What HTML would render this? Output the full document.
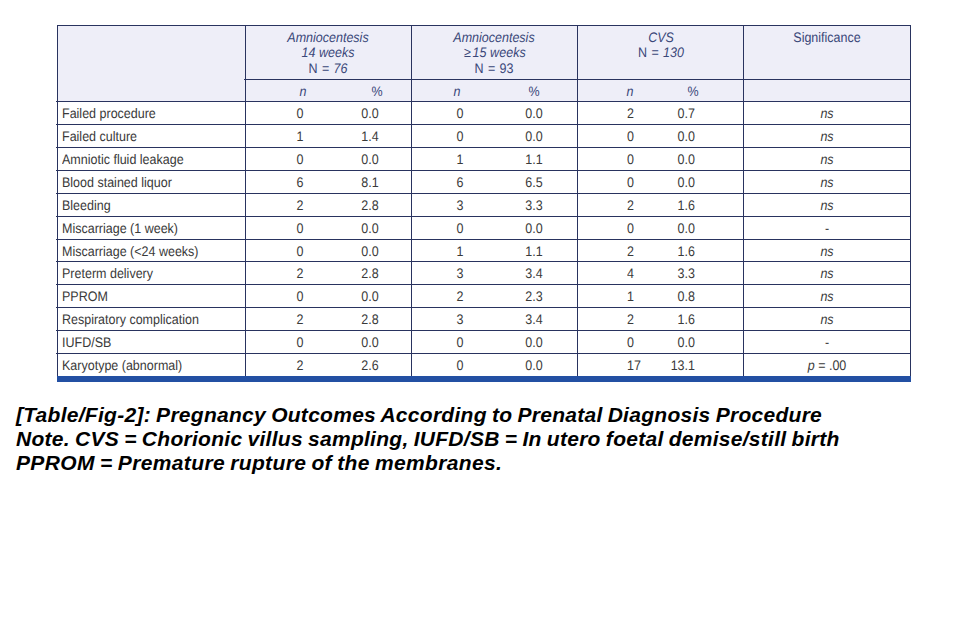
<!DOCTYPE html>
<html><head><meta charset="utf-8"><style>
html,body{margin:0;padding:0;background:#fff;width:957px;height:641px;overflow:hidden;}
body{position:relative;font-family:"Liberation Sans",sans-serif;}
body>div{position:absolute;}
.t{white-space:pre;}
.g{text-rendering:geometricPrecision;}
</style></head><body>
<div style="left:57px;top:25px;width:854px;height:76px;background:#eeeef8"></div>
<div style="left:57px;top:25px;width:854px;height:1px;background:#29335f"></div>
<div style="left:244px;top:79px;width:667px;height:1px;background:#29335f"></div>
<div style="left:56px;top:101px;width:855px;height:1px;background:#29335f"></div>
<div style="left:56px;top:124px;width:855px;height:1px;background:#29335f"></div>
<div style="left:56px;top:147px;width:855px;height:1px;background:#29335f"></div>
<div style="left:56px;top:170px;width:855px;height:1px;background:#29335f"></div>
<div style="left:56px;top:193px;width:855px;height:1px;background:#29335f"></div>
<div style="left:56px;top:216px;width:855px;height:1px;background:#29335f"></div>
<div style="left:56px;top:239px;width:855px;height:1px;background:#29335f"></div>
<div style="left:56px;top:261px;width:855px;height:1px;background:#29335f"></div>
<div style="left:56px;top:284px;width:855px;height:1px;background:#29335f"></div>
<div style="left:56px;top:307px;width:855px;height:1px;background:#29335f"></div>
<div style="left:56px;top:330px;width:855px;height:1px;background:#29335f"></div>
<div style="left:56px;top:353px;width:855px;height:1px;background:#29335f"></div>
<div style="left:57px;top:25px;width:1px;height:351px;background:#29335f"></div>
<div style="left:245px;top:25px;width:1px;height:351px;background:#29335f"></div>
<div style="left:411px;top:25px;width:1px;height:351px;background:#29335f"></div>
<div style="left:577px;top:25px;width:1px;height:351px;background:#29335f"></div>
<div style="left:743px;top:25px;width:1px;height:351px;background:#29335f"></div>
<div style="left:910px;top:25px;width:1px;height:351px;background:#29335f"></div>
<div style="left:57px;top:376px;width:854px;height:6px;background:#2350a3"></div>
<div class="t g" style="left:228.00px;top:30.22px;width:200px;text-align:center;color:#3a4779;font-size:13.8px;line-height:15px;transform:scaleX(0.906);transform-origin:50% 0;"><i>Amniocentesis</i></div>
<div class="t g" style="left:228.00px;top:45.22px;width:200px;text-align:center;color:#3a4779;font-size:13.8px;line-height:15px;transform:scaleX(0.906);transform-origin:50% 0;"><i>14 weeks</i></div>
<div class="t g" style="left:228.00px;top:61.12px;width:200px;text-align:center;color:#3a4779;font-size:13.8px;line-height:15px;transform:scaleX(0.906);transform-origin:50% 0;word-spacing:1px;">N = <i>76</i></div>
<div class="t g" style="left:394.00px;top:30.22px;width:200px;text-align:center;color:#3a4779;font-size:13.8px;line-height:15px;transform:scaleX(0.906);transform-origin:50% 0;"><i>Amniocentesis</i></div>
<div class="t g" style="left:394.50px;top:45.22px;width:200px;text-align:center;color:#3a4779;font-size:13.8px;line-height:15px;transform:scaleX(0.906);transform-origin:50% 0;letter-spacing:0.1px;"><span style="margin-right:1.5px">&ge;</span><i>15 weeks</i></div>
<div class="t g" style="left:394.00px;top:61.12px;width:200px;text-align:center;color:#3a4779;font-size:13.8px;line-height:15px;transform:scaleX(0.906);transform-origin:50% 0;word-spacing:1px;">N = 93</div>
<div class="t g" style="left:560.70px;top:30.22px;width:200px;text-align:center;color:#3a4779;font-size:13.8px;line-height:15px;transform:scaleX(0.906);transform-origin:50% 0;"><i>CVS</i></div>
<div class="t g" style="left:560.70px;top:45.22px;width:200px;text-align:center;color:#3a4779;font-size:13.8px;line-height:15px;transform:scaleX(0.906);transform-origin:50% 0;word-spacing:1px;">N = <i>130</i></div>
<div class="t g" style="left:727.00px;top:30.22px;width:200px;text-align:center;color:#3a4779;font-size:13.8px;line-height:15px;transform:scaleX(0.906);transform-origin:50% 0;">Significance</div>
<div class="t g" style="left:203.00px;top:84.12px;width:200px;text-align:center;color:#3a4779;font-size:13.8px;line-height:15px;transform:scaleX(0.906);transform-origin:50% 0;"><i>n</i></div>
<div class="t g" style="left:357.00px;top:84.12px;width:200px;text-align:center;color:#3a4779;font-size:13.8px;line-height:15px;transform:scaleX(0.906);transform-origin:50% 0;"><i>n</i></div>
<div class="t g" style="left:530.00px;top:84.12px;width:200px;text-align:center;color:#3a4779;font-size:13.8px;line-height:15px;transform:scaleX(0.906);transform-origin:50% 0;"><i>n</i></div>
<div class="t g" style="left:276.60px;top:84.12px;width:200px;text-align:center;color:#3a4779;font-size:13.8px;line-height:15px;transform:scaleX(0.906);transform-origin:50% 0;">%</div>
<div class="t g" style="left:434.00px;top:84.12px;width:200px;text-align:center;color:#3a4779;font-size:13.8px;line-height:15px;transform:scaleX(0.906);transform-origin:50% 0;">%</div>
<div class="t g" style="left:592.80px;top:84.12px;width:200px;text-align:center;color:#3a4779;font-size:13.8px;line-height:15px;transform:scaleX(0.906);transform-origin:50% 0;">%</div>
<div class="t g" style="left:62.00px;top:106.12px;width:200px;text-align:left;color:#3a3a3a;font-size:13.8px;line-height:15px;transform:scaleX(0.906);transform-origin:0 0;">Failed procedure</div>
<div class="t g" style="left:280.10px;top:106.12px;width:40px;text-align:center;color:#3a3a3a;font-size:13.8px;line-height:15px;transform:scaleX(0.906);transform-origin:50% 0;">0</div>
<div class="t g" style="left:349.70px;top:106.12px;width:40px;text-align:center;color:#3a3a3a;font-size:13.8px;line-height:15px;transform:scaleX(0.906);transform-origin:50% 0;">0.0</div>
<div class="t g" style="left:440.30px;top:106.12px;width:40px;text-align:center;color:#3a3a3a;font-size:13.8px;line-height:15px;transform:scaleX(0.906);transform-origin:50% 0;">0</div>
<div class="t g" style="left:514.00px;top:106.12px;width:40px;text-align:center;color:#3a3a3a;font-size:13.8px;line-height:15px;transform:scaleX(0.906);transform-origin:50% 0;">0.0</div>
<div class="t g" style="left:627.00px;top:106.12px;width:40px;text-align:left;color:#3a3a3a;font-size:13.8px;line-height:15px;transform:scaleX(0.906);transform-origin:0 0;">2</div>
<div class="t g" style="left:655.00px;top:106.12px;width:40px;text-align:right;color:#3a3a3a;font-size:13.8px;line-height:15px;transform:scaleX(0.906);transform-origin:100% 0;">0.7</div>
<div class="t g" style="left:797.00px;top:106.12px;width:60px;text-align:center;color:#3a3a3a;font-size:13.8px;line-height:15px;transform:scaleX(0.906);transform-origin:50% 0;"><i>ns</i></div>
<div class="t g" style="left:62.00px;top:129.12px;width:200px;text-align:left;color:#3a3a3a;font-size:13.8px;line-height:15px;transform:scaleX(0.906);transform-origin:0 0;">Failed culture</div>
<div class="t g" style="left:280.10px;top:129.12px;width:40px;text-align:center;color:#3a3a3a;font-size:13.8px;line-height:15px;transform:scaleX(0.906);transform-origin:50% 0;">1</div>
<div class="t g" style="left:349.70px;top:129.12px;width:40px;text-align:center;color:#3a3a3a;font-size:13.8px;line-height:15px;transform:scaleX(0.906);transform-origin:50% 0;">1.4</div>
<div class="t g" style="left:440.30px;top:129.12px;width:40px;text-align:center;color:#3a3a3a;font-size:13.8px;line-height:15px;transform:scaleX(0.906);transform-origin:50% 0;">0</div>
<div class="t g" style="left:514.00px;top:129.12px;width:40px;text-align:center;color:#3a3a3a;font-size:13.8px;line-height:15px;transform:scaleX(0.906);transform-origin:50% 0;">0.0</div>
<div class="t g" style="left:627.00px;top:129.12px;width:40px;text-align:left;color:#3a3a3a;font-size:13.8px;line-height:15px;transform:scaleX(0.906);transform-origin:0 0;">0</div>
<div class="t g" style="left:655.00px;top:129.12px;width:40px;text-align:right;color:#3a3a3a;font-size:13.8px;line-height:15px;transform:scaleX(0.906);transform-origin:100% 0;">0.0</div>
<div class="t g" style="left:797.00px;top:129.12px;width:60px;text-align:center;color:#3a3a3a;font-size:13.8px;line-height:15px;transform:scaleX(0.906);transform-origin:50% 0;"><i>ns</i></div>
<div class="t g" style="left:62.00px;top:152.12px;width:200px;text-align:left;color:#3a3a3a;font-size:13.8px;line-height:15px;transform:scaleX(0.906);transform-origin:0 0;">Amniotic fluid leakage</div>
<div class="t g" style="left:280.10px;top:152.12px;width:40px;text-align:center;color:#3a3a3a;font-size:13.8px;line-height:15px;transform:scaleX(0.906);transform-origin:50% 0;">0</div>
<div class="t g" style="left:349.70px;top:152.12px;width:40px;text-align:center;color:#3a3a3a;font-size:13.8px;line-height:15px;transform:scaleX(0.906);transform-origin:50% 0;">0.0</div>
<div class="t g" style="left:440.30px;top:152.12px;width:40px;text-align:center;color:#3a3a3a;font-size:13.8px;line-height:15px;transform:scaleX(0.906);transform-origin:50% 0;">1</div>
<div class="t g" style="left:514.00px;top:152.12px;width:40px;text-align:center;color:#3a3a3a;font-size:13.8px;line-height:15px;transform:scaleX(0.906);transform-origin:50% 0;">1.1</div>
<div class="t g" style="left:627.00px;top:152.12px;width:40px;text-align:left;color:#3a3a3a;font-size:13.8px;line-height:15px;transform:scaleX(0.906);transform-origin:0 0;">0</div>
<div class="t g" style="left:655.00px;top:152.12px;width:40px;text-align:right;color:#3a3a3a;font-size:13.8px;line-height:15px;transform:scaleX(0.906);transform-origin:100% 0;">0.0</div>
<div class="t g" style="left:797.00px;top:152.12px;width:60px;text-align:center;color:#3a3a3a;font-size:13.8px;line-height:15px;transform:scaleX(0.906);transform-origin:50% 0;"><i>ns</i></div>
<div class="t g" style="left:62.00px;top:175.12px;width:200px;text-align:left;color:#3a3a3a;font-size:13.8px;line-height:15px;transform:scaleX(0.906);transform-origin:0 0;">Blood stained liquor</div>
<div class="t g" style="left:280.10px;top:175.12px;width:40px;text-align:center;color:#3a3a3a;font-size:13.8px;line-height:15px;transform:scaleX(0.906);transform-origin:50% 0;">6</div>
<div class="t g" style="left:349.70px;top:175.12px;width:40px;text-align:center;color:#3a3a3a;font-size:13.8px;line-height:15px;transform:scaleX(0.906);transform-origin:50% 0;">8.1</div>
<div class="t g" style="left:440.30px;top:175.12px;width:40px;text-align:center;color:#3a3a3a;font-size:13.8px;line-height:15px;transform:scaleX(0.906);transform-origin:50% 0;">6</div>
<div class="t g" style="left:514.00px;top:175.12px;width:40px;text-align:center;color:#3a3a3a;font-size:13.8px;line-height:15px;transform:scaleX(0.906);transform-origin:50% 0;">6.5</div>
<div class="t g" style="left:627.00px;top:175.12px;width:40px;text-align:left;color:#3a3a3a;font-size:13.8px;line-height:15px;transform:scaleX(0.906);transform-origin:0 0;">0</div>
<div class="t g" style="left:655.00px;top:175.12px;width:40px;text-align:right;color:#3a3a3a;font-size:13.8px;line-height:15px;transform:scaleX(0.906);transform-origin:100% 0;">0.0</div>
<div class="t g" style="left:797.00px;top:175.12px;width:60px;text-align:center;color:#3a3a3a;font-size:13.8px;line-height:15px;transform:scaleX(0.906);transform-origin:50% 0;"><i>ns</i></div>
<div class="t g" style="left:62.00px;top:198.12px;width:200px;text-align:left;color:#3a3a3a;font-size:13.8px;line-height:15px;transform:scaleX(0.906);transform-origin:0 0;">Bleeding</div>
<div class="t g" style="left:280.10px;top:198.12px;width:40px;text-align:center;color:#3a3a3a;font-size:13.8px;line-height:15px;transform:scaleX(0.906);transform-origin:50% 0;">2</div>
<div class="t g" style="left:349.70px;top:198.12px;width:40px;text-align:center;color:#3a3a3a;font-size:13.8px;line-height:15px;transform:scaleX(0.906);transform-origin:50% 0;">2.8</div>
<div class="t g" style="left:440.30px;top:198.12px;width:40px;text-align:center;color:#3a3a3a;font-size:13.8px;line-height:15px;transform:scaleX(0.906);transform-origin:50% 0;">3</div>
<div class="t g" style="left:514.00px;top:198.12px;width:40px;text-align:center;color:#3a3a3a;font-size:13.8px;line-height:15px;transform:scaleX(0.906);transform-origin:50% 0;">3.3</div>
<div class="t g" style="left:627.00px;top:198.12px;width:40px;text-align:left;color:#3a3a3a;font-size:13.8px;line-height:15px;transform:scaleX(0.906);transform-origin:0 0;">2</div>
<div class="t g" style="left:655.00px;top:198.12px;width:40px;text-align:right;color:#3a3a3a;font-size:13.8px;line-height:15px;transform:scaleX(0.906);transform-origin:100% 0;">1.6</div>
<div class="t g" style="left:797.00px;top:198.12px;width:60px;text-align:center;color:#3a3a3a;font-size:13.8px;line-height:15px;transform:scaleX(0.906);transform-origin:50% 0;"><i>ns</i></div>
<div class="t g" style="left:62.00px;top:221.12px;width:200px;text-align:left;color:#3a3a3a;font-size:13.8px;line-height:15px;transform:scaleX(0.906);transform-origin:0 0;">Miscarriage (1 week)</div>
<div class="t g" style="left:280.10px;top:221.12px;width:40px;text-align:center;color:#3a3a3a;font-size:13.8px;line-height:15px;transform:scaleX(0.906);transform-origin:50% 0;">0</div>
<div class="t g" style="left:349.70px;top:221.12px;width:40px;text-align:center;color:#3a3a3a;font-size:13.8px;line-height:15px;transform:scaleX(0.906);transform-origin:50% 0;">0.0</div>
<div class="t g" style="left:440.30px;top:221.12px;width:40px;text-align:center;color:#3a3a3a;font-size:13.8px;line-height:15px;transform:scaleX(0.906);transform-origin:50% 0;">0</div>
<div class="t g" style="left:514.00px;top:221.12px;width:40px;text-align:center;color:#3a3a3a;font-size:13.8px;line-height:15px;transform:scaleX(0.906);transform-origin:50% 0;">0.0</div>
<div class="t g" style="left:627.00px;top:221.12px;width:40px;text-align:left;color:#3a3a3a;font-size:13.8px;line-height:15px;transform:scaleX(0.906);transform-origin:0 0;">0</div>
<div class="t g" style="left:655.00px;top:221.12px;width:40px;text-align:right;color:#3a3a3a;font-size:13.8px;line-height:15px;transform:scaleX(0.906);transform-origin:100% 0;">0.0</div>
<div class="t g" style="left:797.00px;top:221.12px;width:60px;text-align:center;color:#3a3a3a;font-size:13.8px;line-height:15px;transform:scaleX(0.906);transform-origin:50% 0;">-</div>
<div class="t g" style="left:62.00px;top:244.12px;width:200px;text-align:left;color:#3a3a3a;font-size:13.8px;line-height:15px;transform:scaleX(0.906);transform-origin:0 0;">Miscarriage (&lt;24 weeks)</div>
<div class="t g" style="left:280.10px;top:244.12px;width:40px;text-align:center;color:#3a3a3a;font-size:13.8px;line-height:15px;transform:scaleX(0.906);transform-origin:50% 0;">0</div>
<div class="t g" style="left:349.70px;top:244.12px;width:40px;text-align:center;color:#3a3a3a;font-size:13.8px;line-height:15px;transform:scaleX(0.906);transform-origin:50% 0;">0.0</div>
<div class="t g" style="left:440.30px;top:244.12px;width:40px;text-align:center;color:#3a3a3a;font-size:13.8px;line-height:15px;transform:scaleX(0.906);transform-origin:50% 0;">1</div>
<div class="t g" style="left:514.00px;top:244.12px;width:40px;text-align:center;color:#3a3a3a;font-size:13.8px;line-height:15px;transform:scaleX(0.906);transform-origin:50% 0;">1.1</div>
<div class="t g" style="left:627.00px;top:244.12px;width:40px;text-align:left;color:#3a3a3a;font-size:13.8px;line-height:15px;transform:scaleX(0.906);transform-origin:0 0;">2</div>
<div class="t g" style="left:655.00px;top:244.12px;width:40px;text-align:right;color:#3a3a3a;font-size:13.8px;line-height:15px;transform:scaleX(0.906);transform-origin:100% 0;">1.6</div>
<div class="t g" style="left:797.00px;top:244.12px;width:60px;text-align:center;color:#3a3a3a;font-size:13.8px;line-height:15px;transform:scaleX(0.906);transform-origin:50% 0;"><i>ns</i></div>
<div class="t g" style="left:62.00px;top:266.12px;width:200px;text-align:left;color:#3a3a3a;font-size:13.8px;line-height:15px;transform:scaleX(0.906);transform-origin:0 0;">Preterm delivery</div>
<div class="t g" style="left:280.10px;top:266.12px;width:40px;text-align:center;color:#3a3a3a;font-size:13.8px;line-height:15px;transform:scaleX(0.906);transform-origin:50% 0;">2</div>
<div class="t g" style="left:349.70px;top:266.12px;width:40px;text-align:center;color:#3a3a3a;font-size:13.8px;line-height:15px;transform:scaleX(0.906);transform-origin:50% 0;">2.8</div>
<div class="t g" style="left:440.30px;top:266.12px;width:40px;text-align:center;color:#3a3a3a;font-size:13.8px;line-height:15px;transform:scaleX(0.906);transform-origin:50% 0;">3</div>
<div class="t g" style="left:514.00px;top:266.12px;width:40px;text-align:center;color:#3a3a3a;font-size:13.8px;line-height:15px;transform:scaleX(0.906);transform-origin:50% 0;">3.4</div>
<div class="t g" style="left:627.00px;top:266.12px;width:40px;text-align:left;color:#3a3a3a;font-size:13.8px;line-height:15px;transform:scaleX(0.906);transform-origin:0 0;">4</div>
<div class="t g" style="left:655.00px;top:266.12px;width:40px;text-align:right;color:#3a3a3a;font-size:13.8px;line-height:15px;transform:scaleX(0.906);transform-origin:100% 0;">3.3</div>
<div class="t g" style="left:797.00px;top:266.12px;width:60px;text-align:center;color:#3a3a3a;font-size:13.8px;line-height:15px;transform:scaleX(0.906);transform-origin:50% 0;"><i>ns</i></div>
<div class="t g" style="left:62.00px;top:289.12px;width:200px;text-align:left;color:#3a3a3a;font-size:13.8px;line-height:15px;transform:scaleX(0.906);transform-origin:0 0;">PPROM</div>
<div class="t g" style="left:280.10px;top:289.12px;width:40px;text-align:center;color:#3a3a3a;font-size:13.8px;line-height:15px;transform:scaleX(0.906);transform-origin:50% 0;">0</div>
<div class="t g" style="left:349.70px;top:289.12px;width:40px;text-align:center;color:#3a3a3a;font-size:13.8px;line-height:15px;transform:scaleX(0.906);transform-origin:50% 0;">0.0</div>
<div class="t g" style="left:440.30px;top:289.12px;width:40px;text-align:center;color:#3a3a3a;font-size:13.8px;line-height:15px;transform:scaleX(0.906);transform-origin:50% 0;">2</div>
<div class="t g" style="left:514.00px;top:289.12px;width:40px;text-align:center;color:#3a3a3a;font-size:13.8px;line-height:15px;transform:scaleX(0.906);transform-origin:50% 0;">2.3</div>
<div class="t g" style="left:627.00px;top:289.12px;width:40px;text-align:left;color:#3a3a3a;font-size:13.8px;line-height:15px;transform:scaleX(0.906);transform-origin:0 0;">1</div>
<div class="t g" style="left:655.00px;top:289.12px;width:40px;text-align:right;color:#3a3a3a;font-size:13.8px;line-height:15px;transform:scaleX(0.906);transform-origin:100% 0;">0.8</div>
<div class="t g" style="left:797.00px;top:289.12px;width:60px;text-align:center;color:#3a3a3a;font-size:13.8px;line-height:15px;transform:scaleX(0.906);transform-origin:50% 0;"><i>ns</i></div>
<div class="t g" style="left:62.00px;top:312.12px;width:200px;text-align:left;color:#3a3a3a;font-size:13.8px;line-height:15px;transform:scaleX(0.906);transform-origin:0 0;">Respiratory complication</div>
<div class="t g" style="left:280.10px;top:312.12px;width:40px;text-align:center;color:#3a3a3a;font-size:13.8px;line-height:15px;transform:scaleX(0.906);transform-origin:50% 0;">2</div>
<div class="t g" style="left:349.70px;top:312.12px;width:40px;text-align:center;color:#3a3a3a;font-size:13.8px;line-height:15px;transform:scaleX(0.906);transform-origin:50% 0;">2.8</div>
<div class="t g" style="left:440.30px;top:312.12px;width:40px;text-align:center;color:#3a3a3a;font-size:13.8px;line-height:15px;transform:scaleX(0.906);transform-origin:50% 0;">3</div>
<div class="t g" style="left:514.00px;top:312.12px;width:40px;text-align:center;color:#3a3a3a;font-size:13.8px;line-height:15px;transform:scaleX(0.906);transform-origin:50% 0;">3.4</div>
<div class="t g" style="left:627.00px;top:312.12px;width:40px;text-align:left;color:#3a3a3a;font-size:13.8px;line-height:15px;transform:scaleX(0.906);transform-origin:0 0;">2</div>
<div class="t g" style="left:655.00px;top:312.12px;width:40px;text-align:right;color:#3a3a3a;font-size:13.8px;line-height:15px;transform:scaleX(0.906);transform-origin:100% 0;">1.6</div>
<div class="t g" style="left:797.00px;top:312.12px;width:60px;text-align:center;color:#3a3a3a;font-size:13.8px;line-height:15px;transform:scaleX(0.906);transform-origin:50% 0;"><i>ns</i></div>
<div class="t g" style="left:62.00px;top:335.12px;width:200px;text-align:left;color:#3a3a3a;font-size:13.8px;line-height:15px;transform:scaleX(0.906);transform-origin:0 0;">IUFD/SB</div>
<div class="t g" style="left:280.10px;top:335.12px;width:40px;text-align:center;color:#3a3a3a;font-size:13.8px;line-height:15px;transform:scaleX(0.906);transform-origin:50% 0;">0</div>
<div class="t g" style="left:349.70px;top:335.12px;width:40px;text-align:center;color:#3a3a3a;font-size:13.8px;line-height:15px;transform:scaleX(0.906);transform-origin:50% 0;">0.0</div>
<div class="t g" style="left:440.30px;top:335.12px;width:40px;text-align:center;color:#3a3a3a;font-size:13.8px;line-height:15px;transform:scaleX(0.906);transform-origin:50% 0;">0</div>
<div class="t g" style="left:514.00px;top:335.12px;width:40px;text-align:center;color:#3a3a3a;font-size:13.8px;line-height:15px;transform:scaleX(0.906);transform-origin:50% 0;">0.0</div>
<div class="t g" style="left:627.00px;top:335.12px;width:40px;text-align:left;color:#3a3a3a;font-size:13.8px;line-height:15px;transform:scaleX(0.906);transform-origin:0 0;">0</div>
<div class="t g" style="left:655.00px;top:335.12px;width:40px;text-align:right;color:#3a3a3a;font-size:13.8px;line-height:15px;transform:scaleX(0.906);transform-origin:100% 0;">0.0</div>
<div class="t g" style="left:797.00px;top:335.12px;width:60px;text-align:center;color:#3a3a3a;font-size:13.8px;line-height:15px;transform:scaleX(0.906);transform-origin:50% 0;">-</div>
<div class="t g" style="left:62.00px;top:358.12px;width:200px;text-align:left;color:#3a3a3a;font-size:13.8px;line-height:15px;transform:scaleX(0.906);transform-origin:0 0;">Karyotype (abnormal)</div>
<div class="t g" style="left:280.10px;top:358.12px;width:40px;text-align:center;color:#3a3a3a;font-size:13.8px;line-height:15px;transform:scaleX(0.906);transform-origin:50% 0;">2</div>
<div class="t g" style="left:349.70px;top:358.12px;width:40px;text-align:center;color:#3a3a3a;font-size:13.8px;line-height:15px;transform:scaleX(0.906);transform-origin:50% 0;">2.6</div>
<div class="t g" style="left:440.30px;top:358.12px;width:40px;text-align:center;color:#3a3a3a;font-size:13.8px;line-height:15px;transform:scaleX(0.906);transform-origin:50% 0;">0</div>
<div class="t g" style="left:514.00px;top:358.12px;width:40px;text-align:center;color:#3a3a3a;font-size:13.8px;line-height:15px;transform:scaleX(0.906);transform-origin:50% 0;">0.0</div>
<div class="t g" style="left:627.00px;top:358.12px;width:40px;text-align:left;color:#3a3a3a;font-size:13.8px;line-height:15px;transform:scaleX(0.906);transform-origin:0 0;">17</div>
<div class="t g" style="left:655.00px;top:358.12px;width:40px;text-align:right;color:#3a3a3a;font-size:13.8px;line-height:15px;transform:scaleX(0.906);transform-origin:100% 0;">13.1</div>
<div class="t g" style="left:787.00px;top:358.12px;width:80px;text-align:center;color:#3a3a3a;font-size:13.8px;line-height:15px;transform:scaleX(0.906);transform-origin:50% 0;"><i>p</i> = .00</div>
<div class="t" style="left:16.00px;top:402.72px;width:930px;text-align:left;color:#000;font-size:21px;line-height:24px;font-weight:bold;font-style:italic;letter-spacing:0.28px;word-spacing:-0.98px;">[Table/Fig-2]: Pregnancy Outcomes According to Prenatal Diagnosis Procedure</div>
<div class="t" style="left:16.00px;top:426.52px;width:930px;text-align:left;color:#000;font-size:21px;line-height:24px;font-weight:bold;font-style:italic;letter-spacing:0.28px;word-spacing:-0.98px;">Note. CVS = Chorionic villus sampling, IUFD/SB = In utero foetal demise/still birth</div>
<div class="t" style="left:16.00px;top:451.32px;width:930px;text-align:left;color:#000;font-size:21px;line-height:24px;font-weight:bold;font-style:italic;letter-spacing:0.36px;word-spacing:-0.98px;">PPROM = Premature rupture of the membranes.</div>
</body></html>
